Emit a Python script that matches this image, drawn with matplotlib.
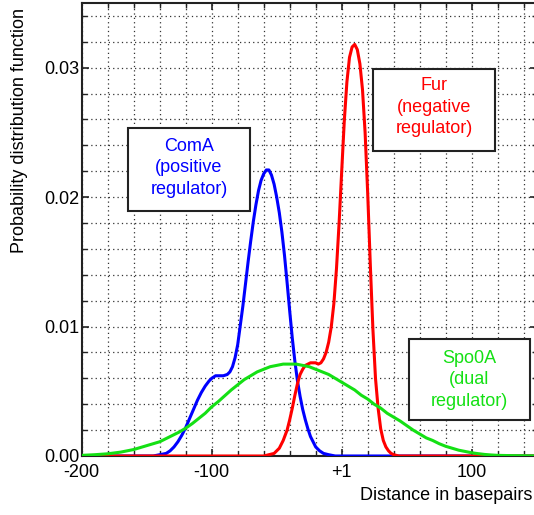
import matplotlib
matplotlib.use("Agg")
import matplotlib.pyplot as plt
from matplotlib.patches import Rectangle
from matplotlib.ticker import MultipleLocator

plt.rcParams['font.family'] = ['Liberation Sans', 'DejaVu Sans']

# ComA (positive regulator) - blue
coma_x = [-200, -145, -140, -135, -132, -129, -126, -123, -120, -117, -114, -111, -108, -105,
          -102, -100, -97, -94, -91, -88, -86, -84, -82, -80, -78, -76, -74, -72, -70, -68, -66,
          -64, -62, -60, -58, -56, -54, -52, -50, -48, -46, -44, -42, -40, -38, -36, -34, -32,
          -30, -28, -26, -24, -22, -20, -17, -14, -10, -5, 150]
coma_y = [0, 0, 0.0001, 0.0002, 0.0004, 0.0007, 0.0011, 0.0016, 0.0022, 0.0029, 0.0036, 0.0043,
          0.0049, 0.0054, 0.0058, 0.0060, 0.0062, 0.0062, 0.0062, 0.0063, 0.0065, 0.0069, 0.0076,
          0.0086, 0.0101, 0.0116, 0.0133, 0.0150, 0.0166, 0.0181, 0.0194, 0.0205, 0.0213, 0.0218,
          0.0221, 0.0221, 0.0217, 0.0210, 0.0200, 0.0188, 0.0173, 0.0155, 0.0134, 0.0112, 0.0091,
          0.0073, 0.0058, 0.0046, 0.0036, 0.0028, 0.0021, 0.0015, 0.0011, 0.0007, 0.0004, 0.0002,
          0.0001, 0, 0]

# Fur (negative regulator) - red
fur_x = [-200, -60, -56, -52, -48, -45, -42, -40, -38, -36, -34, -32, -30, -28, -26, -24, -22,
         -20, -18, -16, -14, -12, -10, -8, -6, -4, -2, 0, 2, 4, 6, 8, 10, 12, 14, 16, 18, 20, 22,
         24, 26, 28, 30, 32, 34, 36, 38, 40, 44, 150]
fur_y = [0, 0, 0.0001, 0.0002, 0.0006, 0.0012, 0.0020, 0.0028, 0.0037, 0.0047, 0.0056, 0.0063,
         0.0067, 0.0070, 0.0071, 0.0072, 0.0072, 0.0072, 0.0071, 0.0072, 0.0075, 0.0080, 0.0088,
         0.0100, 0.0118, 0.0145, 0.0180, 0.0220, 0.0259, 0.0289, 0.0308, 0.0316, 0.0318, 0.0314,
         0.0303, 0.0283, 0.0250, 0.0203, 0.0148, 0.0098, 0.0060, 0.0037, 0.0021, 0.0012, 0.0007,
         0.0004, 0.0002, 0.0001, 0, 0]

# Spo0A (dual regulator) - green
spo_x = [-200, -190, -180, -170, -160, -150, -145, -140, -135, -130, -125, -120, -115, -110,
         -105, -100, -95, -90, -85, -80, -75, -70, -65, -60, -55, -50, -45, -40, -35, -30, -25,
         -20, -15, -10, -5, 0, 5, 10, 15, 20, 25, 30, 35, 40, 45, 50, 55, 60, 65, 70, 75, 80, 85,
         90, 95, 100, 105, 110, 115, 120, 130, 150]
spo_y = [0.00005, 0.0001, 0.00017, 0.0003, 0.0005, 0.0008, 0.00095, 0.0011, 0.00135, 0.0016,
         0.00185, 0.00215, 0.0025, 0.0029, 0.0033, 0.0038, 0.0042, 0.00465, 0.0051, 0.0055,
         0.0059, 0.0062, 0.0065, 0.0067, 0.0069, 0.0070, 0.0071, 0.0071, 0.0071, 0.0070, 0.0069,
         0.0067, 0.0065, 0.0063, 0.0060, 0.0057, 0.0054, 0.0051, 0.0047, 0.0044, 0.0040, 0.0037,
         0.0033, 0.0030, 0.0027, 0.00235, 0.0020, 0.0017, 0.0014, 0.0012, 0.00095, 0.00075,
         0.0006, 0.00045, 0.00035, 0.00025, 0.00018, 0.00012, 0.00008, 0.00005, 0.00003, 0.00001]

xticks = [-200, -100, 0, 100]
xtick_labels = ['-200', '-100', '+1', '100']
yticks = [0, 0.01, 0.02, 0.03]
ytick_labels = ['0.00', '0.01', '0.02', '0.03']

blue = '#0000ff'
red = '#ff0000'
green = '#14e014'

fig = plt.figure(figsize=(5.34, 5.15), dpi=100)
ax = fig.add_axes([81.7/534, 59/515, 455/534, 453/515])

ax.plot(coma_x, coma_y, color=blue, lw=2.2, zorder=3)
ax.plot(fur_x, fur_y, color=red, lw=2.2, zorder=3)
ax.plot(spo_x, spo_y, color=green, lw=2.2, zorder=4)

ax.set_xlim(-200, 150)
ax.set_ylim(0, 0.035)
ax.set_xticks(xticks)
ax.set_xticklabels(xtick_labels)
ax.set_yticks(yticks)
ax.set_yticklabels(ytick_labels)
ax.xaxis.set_minor_locator(MultipleLocator(20))
ax.yaxis.set_minor_locator(MultipleLocator(0.002))
ax.tick_params(which='both', direction='in', top=True, right=True, labelsize=13, color='#222222')
ax.tick_params(which='major', length=5, width=1.2)
ax.tick_params(which='minor', length=3.5, width=1.0)
ax.tick_params(axis='x', pad=6)
ax.tick_params(axis='y', pad=1.5)
ax.grid(True, which='both', color='#333333', linestyle=(0, (1, 2.5)), lw=0.9, zorder=0)
for s in ax.spines.values():
    s.set_linewidth(1.5)
    s.set_color('#222222')

ax.set_xlabel('Distance in basepairs', fontsize=13, loc='right')
ax.xaxis.set_label_coords((532 - 81.7) / 455, -0.068)
fig.text(20/534, 1 - 8/515, 'Probability distribution function', rotation=90,
         ha='center', va='top', fontsize=13)

# label boxes (axes fraction)
boxes = [
    (0.1024, 0.5415, 0.2676, 0.1819, 0.2358, 0.6364, 'ComA\n(positive\nregulator)', blue),
    (0.641, 0.673, 0.268, 0.181, 0.775, 0.770, 'Fur\n(negative\nregulator)', red),
    (0.7193, 0.0795, 0.266, 0.1788, 0.852, 0.1678, 'Spo0A\n(dual\nregulator)', green),
]
for x0, y0, w, h, tx, ty, txt, c in boxes:
    ax.add_patch(Rectangle((x0, y0), w, h, transform=ax.transAxes, facecolor='white',
                           edgecolor='#222222', lw=1.5, zorder=5))
    ax.text(tx, ty, txt, transform=ax.transAxes, ha='center', va='center',
            multialignment='center', color=c, fontsize=13, linespacing=1.35, zorder=6)

fig.savefig('out.png', dpi=100)
